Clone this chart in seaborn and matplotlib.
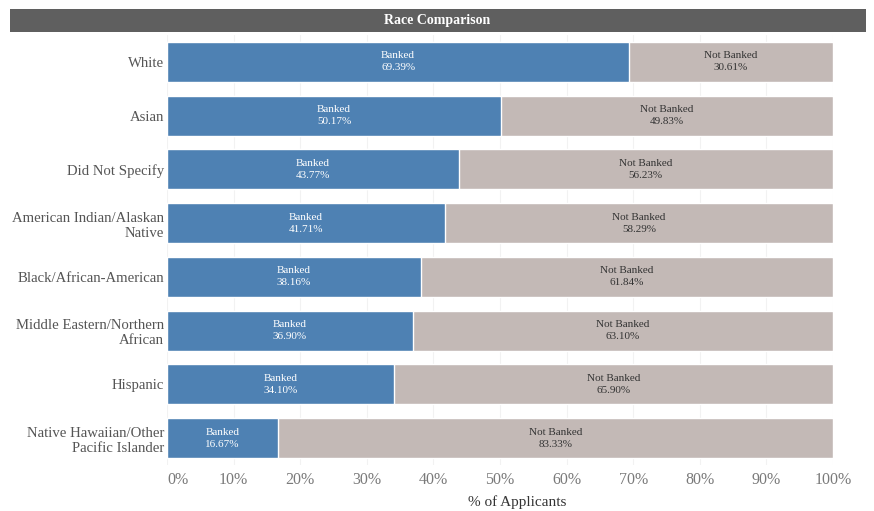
import matplotlib
matplotlib.use("Agg")
import matplotlib.pyplot as plt
from matplotlib.patches import Rectangle
import seaborn as sns
import pandas as pd

races = [
    "White",
    "Asian",
    "Did Not Specify",
    "American Indian/Alaskan\nNative",
    "Black/African-American",
    "Middle Eastern/Northern\nAfrican",
    "Hispanic",
    "Native Hawaiian/Other\nPacific Islander",
]
banked = [69.39, 50.17, 43.77, 41.71, 38.16, 36.90, 34.10, 16.67]
not_banked = [30.61, 49.83, 56.23, 58.29, 61.84, 63.10, 65.90, 83.33]
x_ticks = [0, 10, 20, 30, 40, 50, 60, 70, 80, 90, 100]

df = pd.DataFrame({"race": races, "banked": banked, "not_banked": not_banked})
df["total"] = df["banked"] + df["not_banked"]

sns.set_theme(style="white")
plt.rcParams["font.family"] = ["Liberation Serif", "DejaVu Serif"]

BLUE = "#4e81b3"
GREY = "#c3b9b6"

fig = plt.figure(figsize=(8.74, 5.11), dpi=100)
ax = fig.add_axes([167 / 874, 1 - 465 / 511, (833 - 167) / 874, 430 / 511])

# faint vertical grid behind the bars
for t in x_ticks:
    ax.axvline(t, color="#f2f2f2", lw=0.8, zorder=0)

sns.barplot(data=df, y="race", x="total", color=GREY, orient="h",
            width=0.74, ax=ax, saturation=1, zorder=2)
sns.barplot(data=df, y="race", x="banked", color=BLUE, orient="h",
            width=0.74, ax=ax, saturation=1, zorder=3)

for i, (b, nb) in enumerate(zip(banked, not_banked)):
    ax.text(b / 2, i, f"Banked\n{b:.2f}%", ha="center", va="center",
            color="white", fontsize=8, linespacing=1.4, zorder=4)
    ax.text(b + nb / 2, i, f"Not Banked\n{nb:.2f}%", ha="center", va="center",
            color="#333333", fontsize=8, linespacing=1.4, zorder=4)

ax.set_xlim(0, 100)
ax.set_ylim(len(races) - 0.5, -0.5)
ax.set_xticks(x_ticks)
ax.set_xticklabels([f"{t}%" for t in x_ticks], fontsize=11.5, color="#7a7a7a")
ax.get_xticklabels()[0].set_horizontalalignment("left")
ax.tick_params(axis="x", length=0, pad=5)
ax.tick_params(axis="y", length=0, pad=2)
for lab in ax.get_yticklabels():
    lab.set_fontsize(10.6)
    lab.set_color("#555555")
    lab.set_multialignment("right")
ax.set_ylabel("")
ax.set_xlabel("% of Applicants", fontsize=11, color="#333333")
ax.xaxis.set_label_coords(0.526, -0.07)
for s in ax.spines.values():
    s.set_visible(False)

# title banner across the top
fig.patches.append(Rectangle((10 / 874, 1 - 32 / 511), 856 / 874, 23 / 511,
                             transform=fig.transFigure, facecolor="#5f5f5f",
                             edgecolor="none"))
fig.text(0.5, 1 - 20.5 / 511, "Race Comparison", ha="center", va="center",
         color="white", fontsize=10, fontweight="bold")

fig.savefig("out.png", dpi=100)
